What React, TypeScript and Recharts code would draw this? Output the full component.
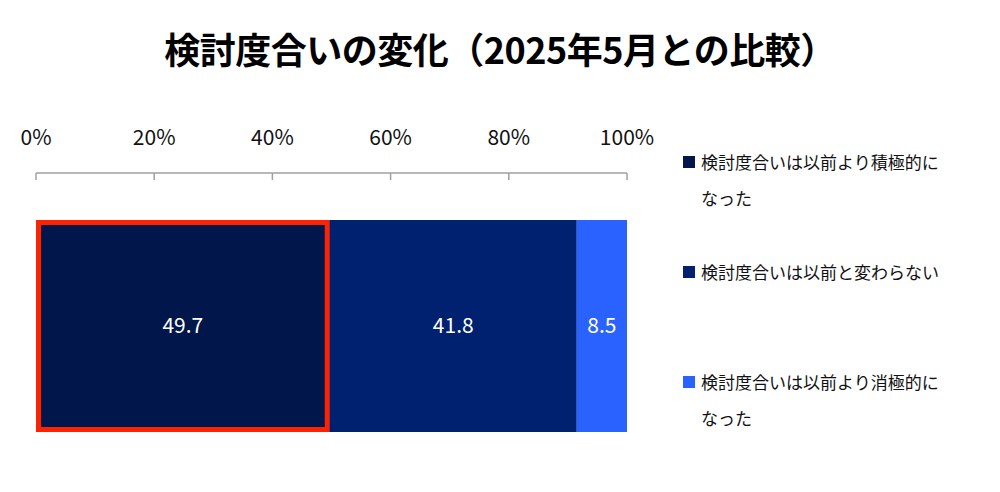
import React from "react";
import { BarChart, Bar, XAxis, YAxis, LabelList } from "recharts";

const TITLE = "検討度合いの変化（2025年5月との比較）";
const categories = ["2025年"];
const seriesNames = [
  "検討度合いは以前より積極的になった",
  "検討度合いは以前と変わらない",
  "検討度合いは以前より消極的になった",
];
const legendLines = [
  ["検討度合いは以前より積極的に", "なった"],
  ["検討度合いは以前と変わらない"],
  ["検討度合いは以前より消極的に", "なった"],
];
const positiveValues = [49.7];
const unchangedValues = [41.8];
const negativeValues = [8.5];
const xTicks = [0, 20, 40, 60, 80, 100];

const colors = ["#01164A", "#002070", "#2962FF"];
const keys = ["positive", "unchanged", "negative"];

const data = categories.map((c, i) => ({
  name: c,
  positive: positiveValues[i],
  unchanged: unchangedValues[i],
  negative: negativeValues[i],
}));

const FONT = "'Noto Sans CJK JP', 'Noto Sans', sans-serif";

const AxisTick = (props: any) => {
  const { x, y, payload } = props;
  return (
    <g>
      <line x1={x} y1={y} x2={x} y2={y + 7} stroke="#A0A0A0" strokeWidth={1.5} />
      <text x={x} y={y - 28} textAnchor="middle" fontSize={21} fill="#111" fontFamily={FONT}>
        {payload.value}%
      </text>
    </g>
  );
};

const HighlightShape = (props: any) => {
  const { x, y, width, height, fill } = props;
  const sw = 5;
  return (
    <g>
      <rect x={x} y={y} width={width} height={height} fill={fill} />
      <rect
        x={x + sw / 2}
        y={y + sw / 2}
        width={width - sw}
        height={height - sw}
        fill="none"
        stroke="#FF2200"
        strokeWidth={sw}
      />
    </g>
  );
};

const LegendBlock = () => (
  <div
    style={{
      position: "absolute",
      left: 683,
      top: 144,
      width: 310,
      fontFamily: FONT,
      fontSize: 17,
      color: "#111",
    }}
  >
    {legendLines.map((lines, i) => (
      <div
        key={seriesNames[i]}
        style={{ position: "absolute", left: 0, top: [0, 110, 220][i], lineHeight: "36px" }}
      >
        {lines.map((ln, j) => (
          <div key={j} style={{ display: "flex", alignItems: "center", whiteSpace: "nowrap" }}>
            <span
              style={{
                display: "inline-block",
                width: 12,
                height: 12,
                background: j === 0 ? colors[i] : "transparent",
                marginRight: 6,
              }}
            />
            {ln}
          </div>
        ))}
      </div>
    ))}
  </div>
);

export default function App() {
  return (
    <div style={{ position: "absolute", left: 0, top: 0, width: 1000, height: 492, background: "#fff" }}>
      <div
        style={{
          position: "absolute",
          left: 0,
          top: 22,
          width: 1000,
          textAlign: "center",
          fontFamily: FONT,
          fontWeight: 700,
          fontSize: 36,
          lineHeight: "52px",
          color: "#000",
          letterSpacing: -0.5,
        }}
      >
        {TITLE}
      </div>
      <div style={{ position: "absolute", left: 0, top: 0 }}>
        <BarChart
          width={1000}
          height={492}
          data={data}
          layout="vertical"
          margin={{ top: 133, right: 373, bottom: 13, left: 36 }}
          barSize={212}
        >
          <XAxis
            type="number"
            orientation="top"
            domain={[0, 100]}
            ticks={xTicks}
            height={40}
            tickLine={false}
            tickSize={0}
            tickMargin={0}
            axisLine={{ stroke: "#A0A0A0", strokeWidth: 1.5 }}
            tick={<AxisTick />}
            interval={0}
          />
          <YAxis type="category" dataKey="name" hide width={0} />
          {keys.map((k, i) => (
            <Bar
              key={k}
              dataKey={k}
              name={seriesNames[i]}
              stackId="a"
              fill={colors[i]}
              isAnimationActive={false}
              shape={i === 0 ? <HighlightShape /> : undefined}
            >
              <LabelList
                dataKey={k}
                position="center"
                fill="#fff"
                fontSize={21}
                fontFamily={FONT}
              />
            </Bar>
          ))}
        </BarChart>
      </div>
      <LegendBlock />
    </div>
  );
}
